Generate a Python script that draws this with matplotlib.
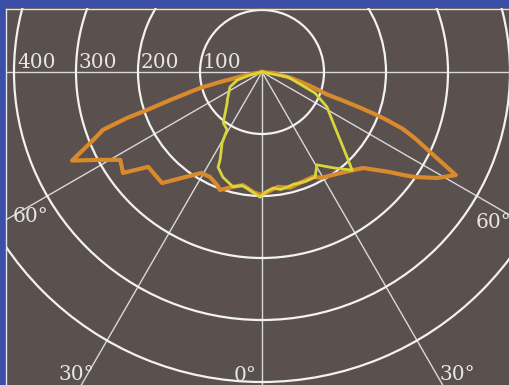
import numpy as np
import matplotlib
matplotlib.use('Agg')
import matplotlib.pyplot as plt
from matplotlib.patches import Rectangle
from matplotlib.transforms import offset_copy

# ── data: luminous intensity (cd) vs angle (deg, 0 = straight down) ──────────
orange_ang = [-90, -79, -76.5, -75.5, -74.5, -73, -71.7, -71.2, -70, -68, -65,
              -62, -58.2, -54, -50.2, -42, -33.8, -31, -26.3, -21.7, -19.6, -14.2,
              -9.5, -4.3, -0.9, 2.4, 7.9, 13.6, 18.9, 25.9, 29.5, 34.2, 42.9, 46.5,
              51.6, 53.9, 55.5, 58.8, 62, 62.8, 64.8, 66.5, 68, 69, 69.5, 70, 70.5,
              71, 74, 78, 85, 90]
orange_val = [0, 25, 72, 103, 120, 155, 195, 230, 273, 294, 338,
              302, 269, 277, 239, 241, 200, 190, 189, 196, 202, 191,
              185, 194, 198, 194, 187, 192, 189, 188, 196, 201, 216, 225,
              259, 282, 299, 330, 354, 335, 296, 270, 245, 215, 195, 170, 140,
              110, 80, 50, 20, 0]

yellow_ang = [-90, -76, -72, -65, -51, -48.5, -37.4, -31.1, -29.4, -25.5, -24.8,
              -20.4, -14.2, -10, -7.4, -4, -0.9, 2, 5.4, 9, 12.3, 16, 18.9, 21.3,
              26.8, 30.6, 37.3, 42.6, 47.2, 53, 61.7, 68.4, 79, 90]
yellow_val = [0, 20, 42, 57, 72, 75, 103, 109, 131, 157, 169,
              181, 191, 186, 189, 195, 202, 193, 188, 192, 190, 188, 189, 190,
              190, 174, 195, 215, 178, 147, 119, 92, 43, 0]

radii = [100, 200, 300, 400, 500]
radius_labels = [100, 200, 300, 400]
theta_lines = [0, 30, 60, 90, 270, 300, 330]
angle_labels = ['60°', '60°', '30°', '0°', '30°']
angle_label_pos = [(-59.0, 470), (53.8, 426), (-33.5, 596), (-5.2, 500), (30.0, 574)]

BG = '#5a504e'
BLUE = '#3b4ea8'
W, H = 510, 385
cx, cy = 262, H - 72          # pole position in pixels
px_per_cd = 0.62
rmax = 700
R = rmax * px_per_cd

fig = plt.figure(figsize=(W / 100, H / 100), dpi=100)
fig.patch.set_facecolor(BG)

ax = fig.add_axes([(cx - R) / W, (cy - R) / H, 2 * R / W, 2 * R / H], projection='polar')
ax.set_facecolor(BG)
ax.set_theta_zero_location('S')
ax.set_ylim(0, rmax)
ax.set_rgrids(radii, labels=[''] * len(radii))
ax.set_thetagrids(theta_lines, labels=[''] * len(theta_lines))
ax.yaxis.grid(True, color='#f2f2f2', lw=1.6)
ax.xaxis.grid(True, color='#d9d9d9', lw=1.0)
for sp in ax.spines.values():
    sp.set_visible(False)

ax.plot(np.deg2rad(orange_ang), orange_val, color='#d98a2c', lw=3.0, solid_joinstyle='round')
ax.plot(np.deg2rad(yellow_ang), yellow_val, color='#d8d63a', lw=2.0, solid_joinstyle='round')

font = dict(family='DejaVu Serif', size=14.5, color='#e6e6e6')
trans = offset_copy(ax.transData, fig=fig, x=3, y=4, units='dots')
for r in radius_labels:
    ax.text(np.deg2rad(270), r, str(r), transform=trans, ha='left', va='baseline', **font)
for lab, (a, r) in zip(angle_labels, angle_label_pos):
    ax.text(np.deg2rad(a), r, lab, ha='left', va='baseline', **font)

# blue frame on top and left
fig.add_artist(Rectangle((0, (H - 8) / H), 1, 8 / H, transform=fig.transFigure,
                         facecolor=BLUE, edgecolor='none', zorder=10))
fig.add_artist(Rectangle((0, 0), 6 / W, 1, transform=fig.transFigure,
                         facecolor=BLUE, edgecolor='none', zorder=10))
fig.add_artist(plt.Line2D([6.5 / W, 1], [(H - 8.5) / H] * 2, transform=fig.transFigure,
                          color='#e4e4ee', lw=1.0, zorder=11))
fig.add_artist(plt.Line2D([6.5 / W] * 2, [0, (H - 8.5) / H], transform=fig.transFigure,
                          color='#e4e4ee', lw=1.0, zorder=11))

fig.savefig('out.png', dpi=100, facecolor=fig.get_facecolor())
